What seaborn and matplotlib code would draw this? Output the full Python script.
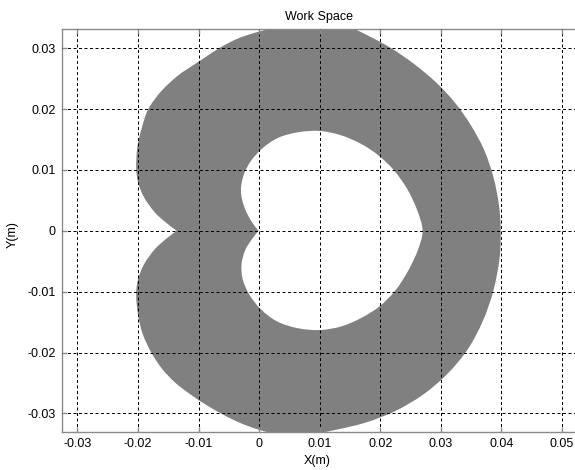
import numpy as np
import matplotlib
matplotlib.use("Agg")
import matplotlib.pyplot as plt
from matplotlib.path import Path
from matplotlib.patches import PathPatch
import seaborn as sns

# Outer boundary of the reachable region (m), counter-clockwise from the left notch
outer_x = [-0.0136, -0.0152, -0.0172, -0.0190, -0.0200, -0.0203, -0.0201, -0.0194,
           -0.0183, -0.0161, -0.0134, -0.0112, -0.0089, -0.0066, -0.0037, -0.0008,
           0.0025, 0.0075, 0.0125, 0.0155, 0.0181, 0.0218, 0.0256, 0.0292,
           0.0323, 0.0350, 0.0372, 0.0387, 0.0396, 0.0399, 0.0397, 0.0387,
           0.0370, 0.0345, 0.0311, 0.0271, 0.0225, 0.0176, 0.0126, 0.0070,
           0.0025, -0.0006, -0.0035, -0.0063, -0.0089, -0.0113, -0.0138, -0.0160,
           -0.0178, -0.0192, -0.0200, -0.0203, -0.0200, -0.0190, -0.0172, -0.0152]
outer_y = [0.0000, 0.0012, 0.0030, 0.0055, 0.0080, 0.0105, 0.0138, 0.0168,
           0.0200, 0.0230, 0.0255, 0.0270, 0.0285, 0.0300, 0.0315, 0.0325,
           0.0333, 0.0340, 0.0338, 0.0332, 0.0320, 0.0300, 0.0274, 0.0244,
           0.0211, 0.0173, 0.0132, 0.0088, 0.0043, 0.0000, -0.0046, -0.0098,
           -0.0147, -0.0194, -0.0235, -0.0269, -0.0296, -0.0315, -0.0327, -0.0337,
           -0.0333, -0.0325, -0.0314, -0.0300, -0.0285, -0.0269, -0.0250, -0.0227,
           -0.0200, -0.0170, -0.0138, -0.0105, -0.0080, -0.0055, -0.0030, -0.0012]
# the notch between the two left lobes is a sharp corner
outer_corners = [0]

# Inner (unreachable) hole boundary (m), counter-clockwise from the cusp near the origin
inner_x = [-0.0001, -0.0013, -0.0024, -0.0030, -0.0026, -0.0014, 0.0006, 0.0032,
           0.0065, 0.0100, 0.0135, 0.0168, 0.0197, 0.0223, 0.0245, 0.0261,
           0.0270, 0.0262, 0.0246, 0.0225, 0.0199, 0.0169, 0.0136, 0.0100,
           0.0064, 0.0030, 0.0003, -0.0016, -0.0027, -0.0029, -0.0023, -0.0012]
inner_y = [0.0000, 0.0016, 0.0038, 0.0064, 0.0090, 0.0114, 0.0136, 0.0153,
           0.0162, 0.0164, 0.0157, 0.0143, 0.0124, 0.0099, 0.0068, 0.0034,
           0.0000, -0.0032, -0.0066, -0.0098, -0.0124, -0.0143, -0.0157, -0.0163,
           -0.0160, -0.0149, -0.0129, -0.0105, -0.0080, -0.0055, -0.0032, -0.0014]
inner_corners = [0]

x_ticks = [-0.03, -0.02, -0.01, 0.0, 0.01, 0.02, 0.03, 0.04, 0.05]
x_tick_labels = ["-0.03", "-0.02", "-0.01", "0", "0.01", "0.02", "0.03", "0.04", "0.05"]
y_ticks = [-0.03, -0.02, -0.01, 0.0, 0.01, 0.02, 0.03]
y_tick_labels = ["-0.03", "-0.02", "-0.01", "0", "0.01", "0.02", "0.03"]


def smooth_closed_path(xs, ys, corners):
    """Closed contour through the given vertices, drawn as cubic Bezier
    segments (Catmull-Rom tangents), keeping the listed vertices sharp."""
    p = np.column_stack([xs, ys])
    n = len(p)
    sharp = set(corners)
    verts = [p[0]]
    codes = [Path.MOVETO]
    for i in range(n):
        p0, p1, p2, p3 = p[(i - 1) % n], p[i], p[(i + 1) % n], p[(i + 2) % n]
        if i in sharp:
            p0 = p1
        if (i + 1) % n in sharp:
            p3 = p2
        c1 = p1 + (p2 - p0) / 6.0
        c2 = p2 - (p3 - p1) / 6.0
        verts += [c1, c2, p2]
        codes += [Path.CURVE4] * 3
    verts.append(p[0])
    codes.append(Path.CLOSEPOLY)
    return np.array(verts), codes


sns.set_theme(style="white")
plt.rcParams["font.family"] = ["Liberation Sans", "DejaVu Sans"]

W, H = 575, 470
fig = plt.figure(figsize=(W / 100, H / 100), dpi=100)
fig.patch.set_facecolor("white")
left, right, top, bottom = 61.7, 577.0, 29.3, 431.7
ax = fig.add_axes([left / W, 1 - bottom / H, (right - left) / W, (bottom - top) / H])
ax.set_facecolor("white")

# Filled workspace: outer contour with the inner contour (reversed) as a hole
ov, oc = smooth_closed_path(outer_x, outer_y, outer_corners)
n_in = len(inner_x)
rev = [0] + list(range(n_in - 1, 0, -1))
iv, ic = smooth_closed_path([inner_x[k] for k in rev], [inner_y[k] for k in rev],
                            [rev.index(c) for c in inner_corners])
ws_path = Path(np.vstack([ov, iv]), oc + ic)
ax.add_patch(PathPatch(ws_path, facecolor="#808080", edgecolor="none", zorder=1))

ax.set_xlim(-0.0326, 0.0525)
ax.set_ylim(-0.0330, 0.0331)
ax.set_xticks(x_ticks)
ax.set_xticklabels(x_tick_labels)
ax.set_yticks(y_ticks)
ax.set_yticklabels(y_tick_labels)

ax.set_axisbelow(False)
ax.grid(True, color="black", linestyle=(0, (3, 2.5)), linewidth=0.72)

spine_col = "#8a8a8a"
for s in ["left", "bottom", "top"]:
    ax.spines[s].set_visible(True)
    ax.spines[s].set_color(spine_col)
    ax.spines[s].set_linewidth(1.0)
ax.spines["right"].set_visible(False)

ax.tick_params(axis="both", direction="in", length=3.5, width=1.0, color=spine_col,
               labelsize=9, labelcolor="black", pad=4.5,
               bottom=True, left=True, top=True, right=False)

ax.set_title("Work Space", fontsize=9, color="black", pad=7)
ax.set_xlabel("X(m)", fontsize=9, color="black")
ax.set_ylabel("Y(m)", fontsize=9, color="black")
ax.xaxis.set_label_coords((317 - left) / (right - left), (bottom - 461) / (bottom - top))
ax.xaxis.label.set_va("center")
ax.yaxis.set_label_coords((13 - left) / (right - left), (bottom - 235) / (bottom - top))
ax.yaxis.label.set_va("center")

fig.savefig("out.png", dpi=100, facecolor="white")
